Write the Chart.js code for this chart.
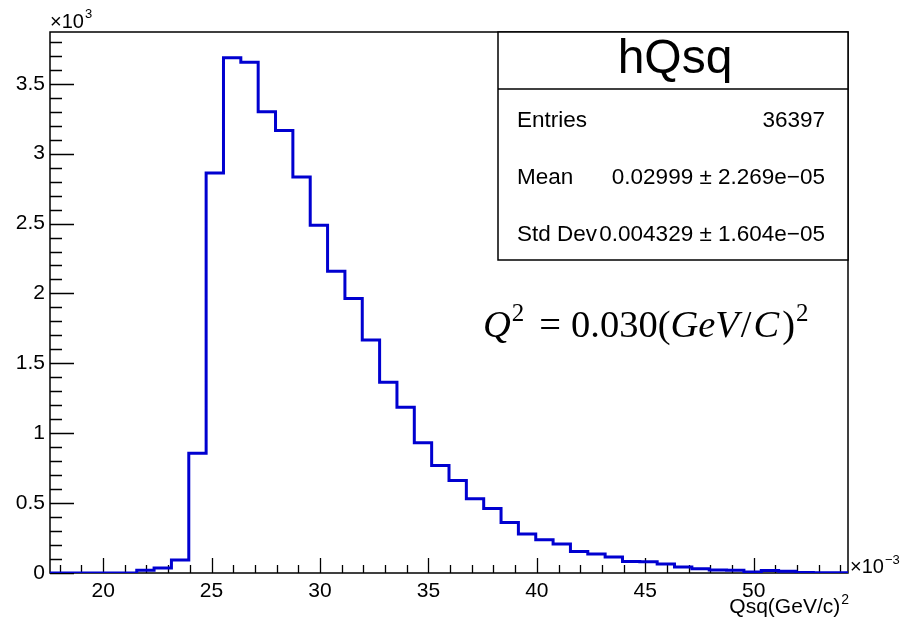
<!DOCTYPE html>
<html>
<head>
<meta charset="utf-8">
<title>hQsq</title>
<script src="https://cdn.jsdelivr.net/npm/chart.js@4.4.1/dist/chart.umd.min.js"></script>
<style>
  html, body { margin: 0; padding: 0; background: #fff; }
  canvas { display: block; }
</style>
</head>
<body>
<canvas id="hqsq-chart" width="900" height="625"></canvas>
<script>
// hQsq histogram, x in units of 1e-3 (GeV/c)^2
const binLow = 17.55;
const binWidth = 0.8;
const binCounts = [
    0, 0, 0, 0, 0, 19, 36, 93, 857, 2861,
    3686, 3654, 3300, 3166, 2833, 2488, 2159, 1964, 1666, 1364,
    1186, 931, 769, 661, 531, 461, 361, 279, 238, 207,
    154, 136, 114, 83, 80, 64, 43, 31, 22, 20,
    8, 18, 12, 4, 2, 1
];

const xTicks = [20, 25, 30, 35, 40, 45, 50];
const yTicks = [0, 500, 1000, 1500, 2000, 2500, 3000, 3500];
const xMinorStep = 1;
const yMinorStep = 100;

const statLabels = ["Entries", "Mean", "Std Dev"];
const statValues = ["36397", "0.02999 \u00b1 2.269e\u221205", "0.004329 \u00b1 1.604e\u221205"];

const histName = "hQsq";
const xTitle = "Qsq(GeV/c)";

const SANS = '"Liberation Sans", Arial, Helvetica, sans-serif';
const SERIF = '"Liberation Serif", "Times New Roman", serif';

const xMin = binLow;
const xMax = binLow + binCounts.length * binWidth;
const yMax = 1.05 * Math.max(...binCounts);

// step outline: one point per bin low edge, plus the last upper edge
const points = binCounts.map((c, i) => ({ x: binLow + i * binWidth, y: c }));
points.push({ x: xMax, y: binCounts[binCounts.length - 1] });

Chart.defaults.font.family = SANS;
Chart.defaults.color = '#000';

function drawSup(ctx, base, sup, x, y, font, supFont, rise, align) {
    ctx.font = font;
    const w1 = ctx.measureText(base).width;
    ctx.font = supFont;
    const w2 = ctx.measureText(sup).width;
    let x0 = x;
    if (align === 'right') x0 = x - w1 - w2;
    ctx.textAlign = 'left';
    ctx.font = font;
    ctx.fillText(base, x0, y);
    ctx.font = supFont;
    ctx.fillText(sup, x0 + w1 + 1, y - rise);
}

const rootFrame = {
    id: 'rootFrame',
    beforeDatasetsDraw(chart) {
        const { ctx, chartArea: a, scales: { x, y } } = chart;
        ctx.save();
        ctx.strokeStyle = '#000';
        ctx.lineWidth = 1.5;
        ctx.strokeRect(a.left, a.top, a.right - a.left, a.bottom - a.top);

        ctx.lineWidth = 1.3;
        ctx.beginPath();
        for (let v = Math.ceil(x.min / xMinorStep) * xMinorStep; v <= x.max; v += xMinorStep) {
            const px = Math.round(x.getPixelForValue(v)) + 0.5;
            const len = xTicks.includes(v) ? 15 : 8;
            ctx.moveTo(px, a.bottom);
            ctx.lineTo(px, a.bottom - len);
        }
        for (let v = 0; v <= y.max; v += yMinorStep) {
            const py = Math.round(y.getPixelForValue(v)) + 0.5;
            const len = yTicks.includes(v) ? 24 : 12;
            ctx.moveTo(a.left, py);
            ctx.lineTo(a.left + len, py);
        }
        ctx.stroke();
        ctx.restore();
    },
    afterDraw(chart) {
        const { ctx, chartArea: a } = chart;
        ctx.save();
        ctx.fillStyle = '#000';
        ctx.textBaseline = 'alphabetic';

        // axis multipliers
        drawSup(ctx, '\u00d710', '3', a.left, 28, '20px ' + SANS, '13px ' + SANS, 10, 'left');
        drawSup(ctx, '\u00d710', '\u22123', a.right + 2, a.bottom, '20px ' + SANS, '13px ' + SANS, 9, 'left');

        // x axis title
        drawSup(ctx, xTitle, '2', a.right, 613, '21px ' + SANS, '14px ' + SANS, 9, 'right');

        // stats box
        const bx = 498, by = a.top, bw = a.right - 498, bh = 228;
        ctx.fillStyle = '#fff';
        ctx.fillRect(bx, by, bw, bh);
        ctx.strokeStyle = '#000';
        ctx.lineWidth = 1.5;
        ctx.strokeRect(bx, by, bw, bh);
        ctx.beginPath();
        ctx.moveTo(bx, by + 57);
        ctx.lineTo(bx + bw, by + 57);
        ctx.stroke();

        ctx.fillStyle = '#000';
        ctx.font = '48px ' + SANS;
        ctx.textAlign = 'center';
        ctx.fillText(histName, bx + bw / 2 + 2, 73);

        ctx.font = '22.5px ' + SANS;
        statLabels.forEach((lab, i) => {
            const yy = 127 + i * 57;
            ctx.textAlign = 'left';
            ctx.fillText(lab, 517, yy);
            ctx.textAlign = 'right';
            ctx.fillText(statValues[i], 825, yy);
        });

        // Q^2 annotation
        const base = 337;
        const it = 'italic 38.5px ' + SERIF;
        const rm = '38.5px ' + SERIF;
        const sp = '25px ' + SERIF;
        const parts = [
            { t: 'Q', f: it, dy: 0, gap: 1 },
            { t: '2', f: sp, dy: -16, gap: 15 },
            { t: '=', f: rm, dy: 0, gap: 10 },
            { t: '0.030(', f: rm, dy: 0, gap: 0 },
            { t: 'GeV', f: it, dy: 0, gap: 2 },
            { t: '/', f: rm, dy: 0, gap: 2 },
            { t: 'C', f: it, dy: 0, gap: 3 },
            { t: ')', f: rm, dy: 0, gap: 1 },
            { t: '2', f: sp, dy: -16, gap: 0 }
        ];
        let cx = 483;
        ctx.textAlign = 'left';
        parts.forEach(p => {
            ctx.font = p.f;
            ctx.fillText(p.t, cx, base + p.dy);
            cx += ctx.measureText(p.t).width + p.gap;
        });
        ctx.restore();
    }
};

new Chart(document.getElementById('hqsq-chart'), {
    type: 'line',
    data: {
        datasets: [{
            label: histName,
            data: points,
            stepped: true,
            borderColor: '#0000d0',
            borderWidth: 3,
            pointRadius: 0,
            fill: false
        }]
    },
    options: {
        responsive: false,
        animation: false,
        layout: { padding: { top: 32, right: 52, left: 0, bottom: 0 } },
        plugins: {
            legend: { display: false },
            tooltip: { enabled: false }
        },
        scales: {
            x: {
                type: 'linear',
                min: xMin,
                max: xMax,
                grid: { display: false, drawTicks: false },
                border: { display: false },
                afterFit: s => { s.height = 52; },
                afterBuildTicks: s => { s.ticks = xTicks.map(v => ({ value: v })); },
                ticks: { font: { size: 21 }, padding: 6, maxRotation: 0, autoSkip: false }
            },
            y: {
                type: 'linear',
                min: 0,
                max: yMax,
                grid: { display: false, drawTicks: false },
                border: { display: false },
                afterFit: s => { s.width = 50; },
                afterBuildTicks: s => { s.ticks = yTicks.map(v => ({ value: v })); },
                ticks: {
                    font: { size: 21 },
                    padding: 5,
                    callback: v => String(v / 1000)
                }
            }
        }
    },
    plugins: [rootFrame]
});
</script>
</body>
</html>
